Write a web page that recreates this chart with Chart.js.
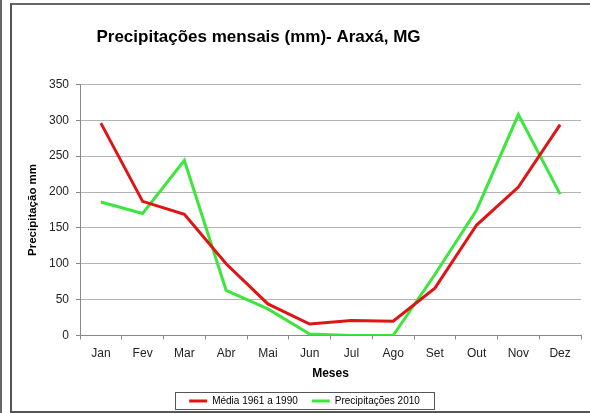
<!DOCTYPE html>
<html>
<head>
<meta charset="utf-8">
<script src="https://cdn.jsdelivr.net/npm/chart.js@4/dist/chart.umd.min.js"></script>
<style>
  html, body { margin: 0; padding: 0; background: #fff; }
  #wrap { position: relative; width: 590px; height: 413px; overflow: hidden; }
  #bar { position: absolute; left: 0; top: 0; width: 2px; height: 413px; background: #666; }
  #frame { position: absolute; left: 10px; top: 3px; width: 580px; height: 406px;
           border-left: 2px solid #555; border-top: 2px solid #666; border-bottom: 2px solid #555; }
  canvas { position: absolute; left: 0; top: 0; }
</style>
</head>
<body>
<div id="wrap">
  <div id="bar"></div>
  <div id="frame"></div>
  <canvas id="c" width="590" height="413"></canvas>
</div>
<script>
const months = ['Jan','Fev','Mar','Abr','Mai','Jun','Jul','Ago','Set','Out','Nov','Dez'];
const media1961_1990 = [296, 187, 169, 100, 44, 16, 21, 20, 66, 154, 207, 294];
const precip2010 = [186, 170, 244, 63, 37, 2, 0, 0, 85, 175, 308, 197];
const yTicks = [0, 50, 100, 150, 200, 250, 300, 350];
const seriesNames = ['Média 1961 a 1990', 'Precipitações 2010'];
const chartTitle = 'Precipitações mensais (mm)- Araxá, MG';

const FONT = "'Liberation Sans', Arial, sans-serif";

const shiftPlugin = {
  id: 'shiftBlocks',
  afterLayout(chart) {
    if (chart.titleBlock) { chart.titleBlock.left = 0; chart.titleBlock.right = 517; }
    if (chart.legend) { chart.legend.left += 8; chart.legend.right += 8; }
  },
  afterDraw(chart) {
    const hb = chart.legend && chart.legend.legendHitBoxes;
    if (!hb || !hb.length) return;
    let l = Infinity, r = -Infinity, t = Infinity, b = -Infinity;
    hb.forEach(h => { l = Math.min(l, h.left); r = Math.max(r, h.left + h.width); t = Math.min(t, h.top); b = Math.max(b, h.top + h.height); });
    const ctx = chart.ctx;
    ctx.save();
    ctx.strokeStyle = '#555';
    ctx.lineWidth = 1;
    ctx.strokeRect(Math.round(l - 14) + 0.5, Math.round(t - 4) + 0.5, Math.round(r - l + 28), Math.round(b - t + 7));
    ctx.restore();
  }
};

new Chart(document.getElementById('c'), {
  type: 'line',
  data: {
    labels: months,
    datasets: [
      { label: seriesNames[0], data: media1961_1990, borderColor: '#e01414', backgroundColor: '#e01414',
        borderWidth: 3, pointRadius: 0, tension: 0 },
      { label: seriesNames[1], data: precip2010, borderColor: '#3ce63c', backgroundColor: '#3ce63c',
        borderWidth: 3, pointRadius: 0, tension: 0 }
    ]
  },
  options: {
    responsive: false,
    animation: false,
    devicePixelRatio: 1,
    layout: { padding: { left: 12, right: 9, top: 4, bottom: -3 } },
    plugins: {
      title: {
        display: true, text: chartTitle, color: '#000',
        font: { family: FONT, size: 17, weight: 'bold' },
        padding: { top: 23, bottom: 37 }
      },
      legend: {
        position: 'bottom',
        labels: {
          color: '#000', font: { family: FONT, size: 10 },
          boxWidth: 18, boxHeight: 3, padding: 14,
          generateLabels(chart) {
            const items = Chart.defaults.plugins.legend.labels.generateLabels(chart);
            items.forEach(i => { i.lineWidth = 0; });
            return items;
          }
        }
      },
      tooltip: { enabled: false }
    },
    scales: {
      x: {
        offset: true,
        grid: { display: true, offset: true, drawOnChartArea: false, color: '#888', tickLength: 4 },
        border: { color: '#888' },
        ticks: { color: '#222', font: { family: FONT, size: 12 }, padding: 7, maxRotation: 0 },
        title: { display: true, text: 'Meses', color: '#000', font: { family: FONT, size: 12, weight: 'bold' },
                 padding: { top: 4, bottom: 1 } },
        afterFit(s) { s.height = 46.5; }
      },
      y: {
        min: 0, max: 350,
        afterBuildTicks(s) { s.ticks = yTicks.map(v => ({ value: v })); },
        grid: { color: '#b4b4b4', tickLength: 4, tickColor: '#888' },
        border: { color: '#888' },
        ticks: { color: '#222', font: { family: FONT, size: 12 }, padding: 7 },
        title: { display: true, text: 'Precipitação mm', color: '#000', font: { family: FONT, size: 11.5, weight: 'bold' },
                 padding: { top: 14, bottom: 0 } },
        afterFit(s) { s.width = 68; }
      }
    }
  },
  plugins: [shiftPlugin]
});
</script>
</body>
</html>
